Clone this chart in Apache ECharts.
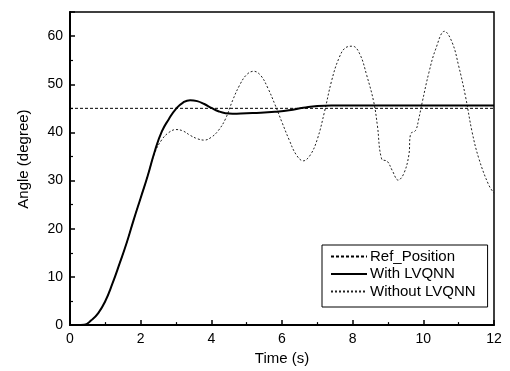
<!DOCTYPE html>
<html>
<head>
<meta charset="utf-8">
<script src="https://cdn.jsdelivr.net/npm/echarts@6/dist/echarts.min.js"></script>
<style>
  html, body { margin: 0; padding: 0; background: #fff; }
  #chart { width: 510px; height: 371px; }
</style>
</head>
<body>
<div id="chart"></div>
<script>
const FONT = 'Liberation Sans, Arial, sans-serif'

// reference position (constant set point)
const refTime = [0, 12]
const refAngle = [45, 45]

// response with LVQNN
const withTime = [0, 0.2, 0.4, 0.6, 0.8, 1.0, 1.2, 1.4, 1.6, 1.8, 2.0, 2.2, 2.4, 2.6, 2.8, 3.0, 3.2, 3.4, 3.6, 3.8,
  4.0, 4.2, 4.4, 4.6, 5.0, 5.4, 5.8, 6.2, 6.6, 7.0, 7.4, 8, 9, 10, 11, 12]
const withAngle = [0, 0, 0.05, 1.0, 2.5, 5.0, 8.6, 12.7, 17.0, 21.8, 26.4, 31.0, 36.1, 40.2, 42.8, 44.9, 46.2, 46.7, 46.5, 45.9,
  45.1, 44.4, 44.0, 43.9, 44.0, 44.1, 44.3, 44.6, 45.1, 45.5, 45.6, 45.6, 45.6, 45.6, 45.6, 45.6]

// response without LVQNN
const withoutTime = [0, 0.2, 0.4, 0.6, 0.8, 1.0, 1.2, 1.4, 1.6, 1.8, 2.0, 2.2, 2.4, 2.6, 2.8, 3.0, 3.2, 3.4, 3.6, 3.8,
  4.0, 4.2, 4.4, 4.6, 4.8, 5.0, 5.2, 5.4, 5.6, 5.8, 6.0, 6.2, 6.4, 6.6, 6.8, 7.0, 7.2, 7.4, 7.6, 7.8,
  8.0, 8.2, 8.4, 8.6, 8.7, 8.82, 8.98, 9.12, 9.29, 9.45, 9.59, 9.64, 9.78, 9.87, 9.97, 10.16, 10.35, 10.6, 10.82, 11.0,
  11.19, 11.38, 11.57, 11.85, 12.0]
const withoutAngle = [0, 0, 0.05, 1.0, 2.5, 5.0, 8.6, 12.7, 17.0, 21.8, 26.4, 31.0, 35.8, 38.5, 40.0, 40.6, 40.3, 39.4, 38.7, 38.4,
  39.0, 40.4, 42.8, 46.6, 49.8, 52.0, 52.7, 51.8, 49.2, 45.8, 42.1, 38.5, 35.4, 34.1, 35.3, 38.6, 44.2, 50.6, 55.2, 57.6,
  57.9, 56.3, 51.8, 46.2, 41.4, 34.5, 34.0, 32.1, 30.1, 31.5, 35.3, 39.7, 40.4, 42.8, 46.3, 52.5, 57.3, 61.0, 58.6, 53.8,
  47.6, 40.1, 34.6, 29.1, 27.4]

const zip = (xs, ys) => xs.map((x, i) => [x, ys[i]])

const myChart = echarts.init(document.getElementById('chart'), null, { renderer: 'canvas' })

const axisCommon = {
  axisLine: { show: true, lineStyle: { color: '#000', width: 2 } },
  axisTick: { show: true, inside: true, length: 5, lineStyle: { color: '#000', width: 1.5 } },
  minorTick: { show: true, splitNumber: 2, length: 3, lineStyle: { color: '#000', width: 1.2 } },
  splitLine: { show: false },
  axisLabel: { color: '#000', fontSize: 14, fontFamily: FONT },
  nameTextStyle: { color: '#000', fontSize: 15, fontFamily: FONT },
}

myChart.setOption({
  backgroundColor: '#fff',
  animation: false,
  grid: {
    left: 70, right: 16, top: 12, bottom: 43,
    show: true, borderColor: '#000', borderWidth: 1.5,
  },
  xAxis: {
    ...axisCommon,
    type: 'value',
    min: 0, max: 12, interval: 2,
    name: 'Time (s)',
    nameLocation: 'middle',
    nameGap: 24,
    axisLabel: { ...axisCommon.axisLabel, margin: 7 },
  },
  yAxis: {
    ...axisCommon,
    type: 'value',
    min: 0, max: 65, interval: 10,
    name: 'Angle (degree)',
    nameLocation: 'middle',
    nameGap: 39,
    nameTextStyle: { ...axisCommon.nameTextStyle, padding: [0, 0, 0, 19] },
    axisLabel: { ...axisCommon.axisLabel, margin: 7, showMaxLabel: false },
  },
  legend: {
    orient: 'vertical',
    left: 322, top: 245,
    padding: [4, 12, 8, 8],
    itemWidth: 36, itemHeight: 12, itemGap: 2.5,
    borderColor: '#000', borderWidth: 1,
    backgroundColor: '#fff',
    itemStyle: { opacity: 0 },
    textStyle: { color: '#000', fontSize: 15, fontFamily: FONT, padding: [0, 0, 0, -2] },
    data: ['Ref_Position', 'With LVQNN', 'Without LVQNN'],
  },
  series: [
    {
      name: 'Ref_Position',
      type: 'line',
      data: zip(refTime, refAngle),
      symbol: 'none',
      itemStyle: { color: '#000' },
      lineStyle: { color: '#000', width: 1, type: [3, 2] },
      z: 2,
    },
    {
      name: 'With LVQNN',
      type: 'line',
      data: zip(withTime, withAngle),
      symbol: 'none',
      smooth: 0.5,
      itemStyle: { color: '#000' },
      lineStyle: { color: '#000', width: 2 },
      z: 3,
    },
    {
      name: 'Without LVQNN',
      type: 'line',
      data: zip(withoutTime, withoutAngle),
      symbol: 'none',
      smooth: 0.4,
      itemStyle: { color: '#222' },
      lineStyle: { color: '#222', width: 1, type: [2, 2] },
      z: 1,
    },
  ],
})
</script>
</body>
</html>
